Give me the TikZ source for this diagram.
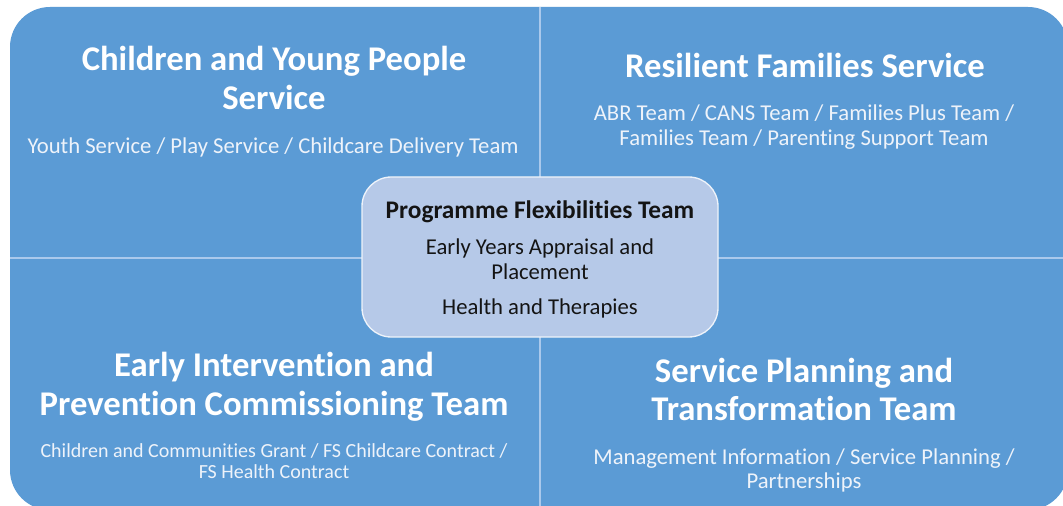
\documentclass[tikz,border=0pt]{standalone}
\usepackage{fontspec}
\setmainfont[Ligatures=NoCommon]{Carlito}
\definecolor{mainblue}{RGB}{91,155,213}
\definecolor{centerblue}{RGB}{182,201,232}
\definecolor{divider}{RGB}{170,201,236}
\definecolor{subwhite}{RGB}{238,243,250}
\definecolor{darktext}{RGB}{20,20,20}
\begin{document}
\begin{tikzpicture}[x=0.75pt,y=-0.75pt,
  title/.style={anchor=base,text=white,font=\fontsize{26}{30}\selectfont\bfseries,inner sep=0pt},
  sub/.style={anchor=base,text=subwhite,font=\fontsize{17}{20}\selectfont,inner sep=0pt},
  subsmall/.style={anchor=base,text=subwhite,font=\fontsize{15}{18}\selectfont,inner sep=0pt},
  ctitle/.style={anchor=base,text=darktext,font=\fontsize{19}{22}\selectfont\bfseries,inner sep=0pt},
  cbody/.style={anchor=base,text=darktext,font=\fontsize{17}{20}\selectfont,inner sep=0pt},
  sep/.style={draw=divider,line width=2pt}]
\useasboundingbox (0,0) rectangle (1063,506);
\fill[white] (0,0) rectangle (1063,506);
\begin{scope}
\clip (0,0) rectangle (1063,506);
\fill[mainblue,rounded corners=30pt] (10,7) rectangle (1068,510);
\coordinate (vt) at (540,7);
\coordinate (vb) at (540,510);
\coordinate (hl) at (10,258);
\coordinate (hr) at (1068,258);
\draw[sep] (vt) -- (vb);
\draw[sep] (hl) -- (hr);
\end{scope}
\node[draw=subwhite,line width=1pt,fill=centerblue,rounded corners=22pt,minimum width=356*0.75pt,minimum height=160*0.75pt,inner sep=0pt] (center) at (540,257) {};
% top left
\node[title] (tl1) at (274,71) {Children and Young People};
\node[title] (tl2) at (274,110) {Service};
\node[sub] (tl3) at (273,154) {Youth Service / Play Service / Childcare Delivery Team};
% top right
\node[title] (tr1) at (805,78) {Resilient Families Service};
\node[sub] (tr2) at (804,121) {ABR Team / CANS Team / Families Plus Team /};
\node[sub] (tr3) at (804,146) {Families Team / Parenting Support Team};
% bottom left
\node[title] (bl1) at (274,376) {Early Intervention and};
\node[title] (bl2) at (274,415) {Prevention Commissioning Team};
\node[subsmall] (bl3) at (274,457) {Children and Communities Grant / FS Childcare Contract /};
\node[subsmall] (bl4) at (274,478) {FS Health Contract};
% bottom right
\node[title] (br1) at (804,382) {Service Planning and};
\node[title] (br2) at (804,420) {Transformation Team};
\node[sub] (br3) at (804,464) {Management Information / Service Planning /};
\node[sub] (br4) at (804,488) {Partnerships};
% center
\node[ctitle] (c1) at (540,218) {Programme Flexibilities Team};
\node[cbody] (c2) at (540,254) {Early Years Appraisal and};
\node[cbody] (c3) at (540,279) {Placement};
\node[cbody] (c4) at (540,314) {Health and Therapies};
\end{tikzpicture}
\end{document}
